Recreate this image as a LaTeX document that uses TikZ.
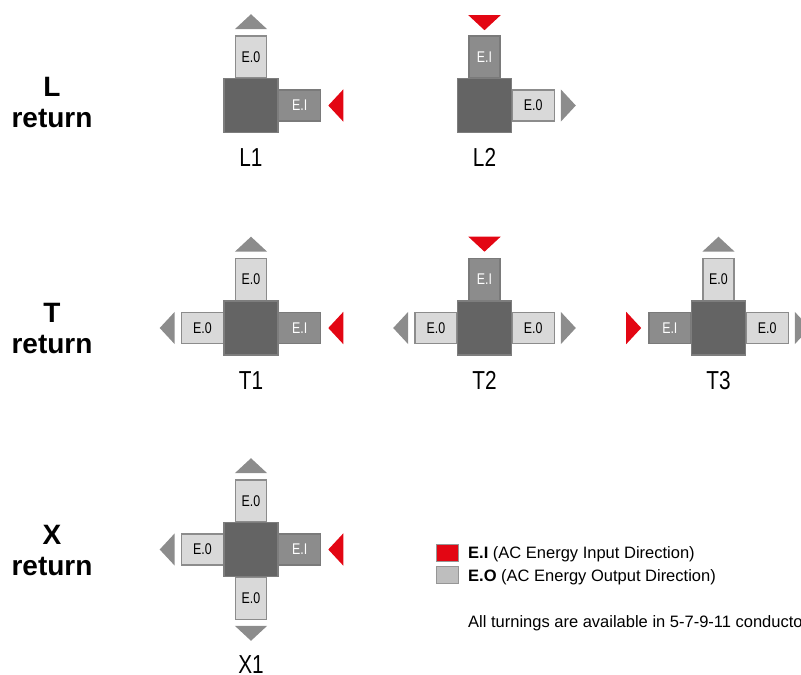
\documentclass[tikz,border=0pt]{standalone}
\usepackage{fontspec}
\setmainfont{Liberation Sans}
\newfontfamily\dinfont[FakeStretch=0.8]{Liberation Sans}
\usetikzlibrary{positioning}
\definecolor{hubfill}{RGB}{100,100,100}
\definecolor{hubline}{RGB}{125,125,125}
\definecolor{instubfill}{RGB}{140,140,140}
\definecolor{instubline}{RGB}{122,122,122}
\definecolor{outstubfill}{RGB}{217,217,217}
\definecolor{outstubline}{RGB}{140,140,140}
\definecolor{outarr}{RGB}{140,140,140}
\definecolor{inred}{RGB}{227,6,19}
\definecolor{keygray}{RGB}{190,190,190}
\definecolor{keyline}{RGB}{150,150,150}

\tikzset{
  hub/.style={draw=hubline, fill=hubfill, line width=1.6pt, minimum size=54pt, inner sep=0pt},
  stub/.style={line width=1.3pt, inner sep=0pt, font=\dinfont\fontsize{15.5}{15.5}\selectfont},
  instub/.style={stub, draw=instubline, fill=instubfill, text=white},
  outstub/.style={stub, draw=outstubline, fill=outstubfill},
  vstub/.style={minimum width=31pt, minimum height=42pt},
  hstub/.style={minimum width=42pt, minimum height=31pt},
  tag/.style={font=\dinfont\fontsize{26}{26}\selectfont},
  rowlabel/.style={font=\bfseries\fontsize{28}{31}\selectfont, align=center},
  outtip/.style={fill=outarr},
  intip/.style={fill=inred},
  keybox/.style={draw=keyline, line width=1pt, minimum width=22pt, minimum height=17pt, inner sep=0pt},
  keytext/.style={font=\fontsize{16.5}{16.5}\selectfont, inner sep=0pt, anchor=base west},
}

\begin{document}
\begin{tikzpicture}[x=1pt, y=-1pt]
\clip (0,0) rectangle (801,675);

%Row labels
\node[rowlabel] (rowl) at (52,103) {L\\return};
\node[rowlabel] (rowt) at (52,328) {T\\return};
\node[rowlabel] (rowx) at (52,550) {X\\return};

%L1
\coordinate (l1) at (251,105.5);
\node[outstub, vstub, above=27pt of l1] (l1n) {E.0};
\node[instub, hstub, right=27pt of l1] (l1e) {E.I};
\node[hub] (l1h) at (l1) {};
\node[tag, below=12pt of l1h] (l1t) {L1};
\fill[outtip] ([yshift=6pt]l1n.north west) -- ([yshift=6pt]l1n.north east) -- ([yshift=21pt]l1n.north) -- cycle;
\fill[intip] ([xshift=7pt]l1e.east) -- ([xshift=22pt]l1e.north east) -- ([xshift=22pt]l1e.south east) -- cycle;

%L2
\coordinate (l2) at (484.5,105.5);
\node[instub, vstub, above=27pt of l2] (l2n) {E.I};
\node[outstub, hstub, right=27pt of l2] (l2e) {E.0};
\node[hub] (l2h) at (l2) {};
\node[tag, below=12pt of l2h] (l2t) {L2};
\fill[intip] ([yshift=5pt]l2n.north) -- ([yshift=20pt]l2n.north west) -- ([yshift=20pt]l2n.north east) -- cycle;
\fill[outtip] ([xshift=6pt]l2e.north east) -- ([xshift=6pt]l2e.south east) -- ([xshift=21pt]l2e.east) -- cycle;

%T1
\coordinate (t1) at (251,328);
\node[outstub, vstub, above=27pt of t1] (t1n) {E.0};
\node[outstub, hstub, left=27pt of t1] (t1w) {E.0};
\node[instub, hstub, right=27pt of t1] (t1e) {E.I};
\node[hub] (t1h) at (t1) {};
\node[tag, below=12pt of t1h] (t1t) {T1};
\fill[outtip] ([yshift=6pt]t1n.north west) -- ([yshift=6pt]t1n.north east) -- ([yshift=21pt]t1n.north) -- cycle;
\fill[outtip] ([xshift=-6pt]t1w.north west) -- ([xshift=-6pt]t1w.south west) -- ([xshift=-21pt]t1w.west) -- cycle;
\fill[intip] ([xshift=7pt]t1e.east) -- ([xshift=22pt]t1e.north east) -- ([xshift=22pt]t1e.south east) -- cycle;

%T2
\coordinate (t2) at (484.5,328);
\node[instub, vstub, above=27pt of t2] (t2n) {E.I};
\node[outstub, hstub, left=27pt of t2] (t2w) {E.0};
\node[outstub, hstub, right=27pt of t2] (t2e) {E.0};
\node[hub] (t2h) at (t2) {};
\node[tag, below=12pt of t2h] (t2t) {T2};
\fill[intip] ([yshift=6pt]t2n.north) -- ([yshift=21pt]t2n.north west) -- ([yshift=21pt]t2n.north east) -- cycle;
\fill[outtip] ([xshift=-6pt]t2w.north west) -- ([xshift=-6pt]t2w.south west) -- ([xshift=-21pt]t2w.west) -- cycle;
\fill[outtip] ([xshift=6pt]t2e.north east) -- ([xshift=6pt]t2e.south east) -- ([xshift=21pt]t2e.east) -- cycle;

%T3
\coordinate (t3) at (718.5,328);
\node[outstub, vstub, above=27pt of t3] (t3n) {E.0};
\node[instub, hstub, left=27pt of t3] (t3w) {E.I};
\node[outstub, hstub, right=27pt of t3] (t3e) {E.0};
\node[hub] (t3h) at (t3) {};
\node[tag, below=12pt of t3h] (t3t) {T3};
\fill[outtip] ([yshift=6pt]t3n.north west) -- ([yshift=6pt]t3n.north east) -- ([yshift=21pt]t3n.north) -- cycle;
\fill[intip] ([xshift=-7pt]t3w.west) -- ([xshift=-22pt]t3w.north west) -- ([xshift=-22pt]t3w.south west) -- cycle;
\fill[outtip] ([xshift=6pt]t3e.north east) -- ([xshift=6pt]t3e.south east) -- ([xshift=21pt]t3e.east) -- cycle;

%X1
\coordinate (x1) at (251,549.5);
\node[outstub, vstub, above=27pt of x1] (x1n) {E.0};
\node[outstub, vstub, below=27pt of x1] (x1s) {E.0};
\node[outstub, hstub, left=27pt of x1] (x1w) {E.0};
\node[instub, hstub, right=27pt of x1] (x1e) {E.I};
\node[hub] (x1h) at (x1) {};
\node[tag, below=32pt of x1s] (x1t) {X1};
\fill[outtip] ([yshift=6pt]x1n.north west) -- ([yshift=6pt]x1n.north east) -- ([yshift=21pt]x1n.north) -- cycle;
\fill[outtip] ([yshift=-6pt]x1s.south west) -- ([yshift=-6pt]x1s.south east) -- ([yshift=-21pt]x1s.south) -- cycle;
\fill[outtip] ([xshift=-6pt]x1w.north west) -- ([xshift=-6pt]x1w.south west) -- ([xshift=-21pt]x1w.west) -- cycle;
\fill[intip] ([xshift=7pt]x1e.east) -- ([xshift=22pt]x1e.north east) -- ([xshift=22pt]x1e.south east) -- cycle;

%Legend
\node[keybox, fill=inred] (keyin) at (447,552.5) {};
\node[keybox, fill=keygray] (keyout) at (447,575) {};
\node[keytext] (keyintext) at (468,558) {\textbf{E.I} (AC Energy Input Direction)};
\node[keytext] (keyouttext) at (468,581) {\textbf{E.O} (AC Energy Output Direction)};
\node[keytext] (keynote) at (468,627) {All turnings are available in 5-7-9-11 conductors.};
\end{tikzpicture}
\end{document}
